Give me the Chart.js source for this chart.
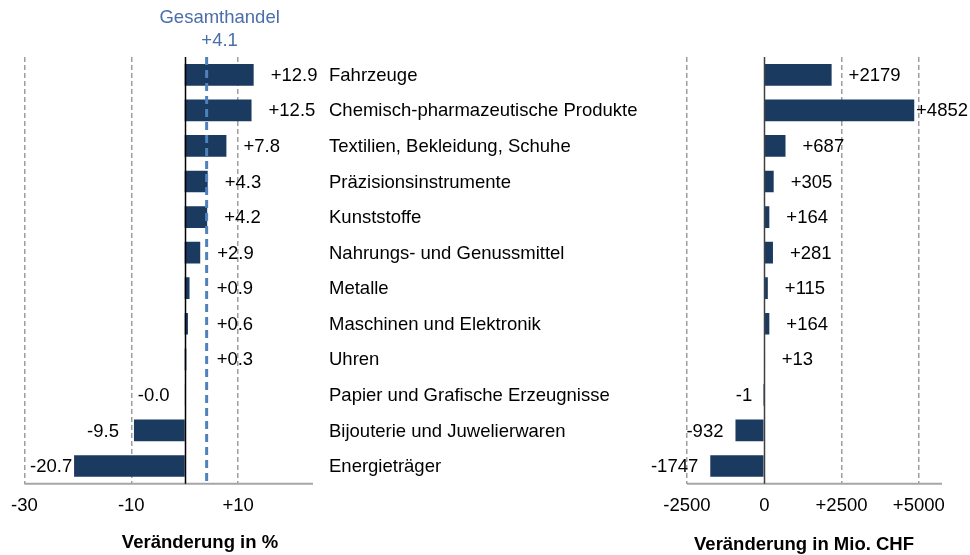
<!DOCTYPE html>
<html>
<head>
<meta charset="utf-8">
<script src="https://cdn.jsdelivr.net/npm/chart.js@4"></script>
<style>
    html, body { margin: 0; padding: 0; background: #fff; }
    #wrap { position: relative; width: 970px; height: 555px; overflow: hidden; }
    #cvProzent { position: absolute; left: 0; top: 0; }
    #cvMio { position: absolute; left: 645px; top: 0; }
</style>
</head>
<body>
<div id="wrap">
    <canvas id="cvProzent" width="645" height="555"></canvas>
    <canvas id="cvMio" width="325" height="555"></canvas>
</div>
<script>
'use strict';

// Daten
const kategorien = [
    'Fahrzeuge',
    'Chemisch-pharmazeutische Produkte',
    'Textilien, Bekleidung, Schuhe',
    'Präzisionsinstrumente',
    'Kunststoffe',
    'Nahrungs- und Genussmittel',
    'Metalle',
    'Maschinen und Elektronik',
    'Uhren',
    'Papier und Grafische Erzeugnisse',
    'Bijouterie und Juwelierwaren',
    'Energieträger'
];
const veraenderungProzent = [12.9, 12.5, 7.8, 4.3, 4.2, 2.9, 0.9, 0.6, 0.3, -0.02, -9.5, -20.7];
const veraenderungMio = [2179, 4852, 687, 305, 164, 281, 115, 164, 13, -1, -932, -1747];
const gesamthandel = 4.1;
const ticksProzent = [-30, -10, 10];
const ticksMio = [-2500, 0, 2500, 5000];

// Stil
const schrift = '"Liberation Sans", Arial, sans-serif';
const groesse = 18.5;
const balkenFarbe = '#1b3a60';
const gitterFarbe = '#9e9e9e';
const blau = '#4f81bd';

let mitVorzeichen = (v, stellen) => {
    let s = Math.abs(v).toFixed(stellen);
    if (v < 0) return '-' + s;
    if (v > 0) return '+' + s;
    return s;
}

// Wertbeschriftungen, Nulllinie und Grundlinie
let wertePlugin = (werte, stellen, minLinks, nullFarbe, abstandNeg) => ({
    id: 'werte',
    afterDatasetsDraw(chart) {
        const ctx = chart.ctx;
        const x = chart.scales.x;
        const area = chart.chartArea;
        const bars = chart.getDatasetMeta(0).data;

        ctx.save();
        // Grundlinie
        ctx.strokeStyle = '#a6a6a6';
        ctx.lineWidth = 2;
        ctx.beginPath();
        ctx.moveTo(area.left, area.bottom);
        ctx.lineTo(area.right, area.bottom);
        ctx.stroke();
        // Nulllinie
        let x0 = Math.round(x.getPixelForValue(0)) + 0.5;
        ctx.strokeStyle = nullFarbe;
        ctx.lineWidth = 1.5;
        ctx.beginPath();
        ctx.moveTo(x0, area.top);
        ctx.lineTo(x0, area.bottom);
        ctx.stroke();

        ctx.font = groesse + 'px ' + schrift;
        ctx.fillStyle = '#000';
        ctx.textBaseline = 'middle';
        let minX = minLinks(chart);
        for (let i = 0; i < bars.length; i++) {
            let v = werte[i];
            let txt = mitVorzeichen(v, stellen);
            let w = ctx.measureText(txt).width;
            if (v >= 0) {
                let links = Math.max(bars[i].x + 17, minX.wert);
                if (links + w > chart.width - 2) links = chart.width - 2 - w;
                ctx.textAlign = 'left';
                ctx.fillText(txt, links, bars[i].y + 1);
            } else {
                let rechts = bars[i].x - abstandNeg;
                if (rechts - w < minX.rand) rechts = minX.rand + w;
                ctx.textAlign = 'right';
                ctx.fillText(txt, rechts, bars[i].y + 1);
            }
        }
        ctx.restore();
    }
});

let prozentExtras = {
    id: 'prozentExtras',
    afterDraw(chart) {
        const ctx = chart.ctx;
        const x = chart.scales.x;
        const area = chart.chartArea;
        const bars = chart.getDatasetMeta(0).data;
        let xg = x.getPixelForValue(gesamthandel);

        ctx.save();
        // Gesamthandel
        ctx.strokeStyle = blau;
        ctx.lineWidth = 3;
        ctx.setLineDash([8, 5]);
        ctx.beginPath();
        ctx.moveTo(xg, area.top);
        ctx.lineTo(xg, area.bottom);
        ctx.stroke();
        ctx.setLineDash([]);

        ctx.font = groesse + 'px ' + schrift;
        ctx.fillStyle = '#4a6ea9';
        ctx.textAlign = 'center';
        ctx.textBaseline = 'middle';
        ctx.fillText('Gesamthandel', xg + 13, 18);
        ctx.fillText(mitVorzeichen(gesamthandel, 1), xg + 13, 41);

        // Kategorien
        ctx.fillStyle = '#000';
        ctx.textAlign = 'left';
        for (let i = 0; i < bars.length; i++) {
            ctx.fillText(kategorien[i], 329, bars[i].y + 1);
        }

        // Achsentitel
        ctx.font = 'bold ' + groesse + 'px ' + schrift;
        ctx.textAlign = 'center';
        ctx.fillText('Veränderung in %', 200, 543);
        ctx.restore();
    }
};

let mioExtras = {
    id: 'mioExtras',
    afterDraw(chart) {
        const ctx = chart.ctx;
        ctx.save();
        ctx.font = 'bold ' + groesse + 'px ' + schrift;
        ctx.fillStyle = '#000';
        ctx.textAlign = 'center';
        ctx.textBaseline = 'middle';
        ctx.fillText('Veränderung in Mio. CHF', 159, 545);
        ctx.restore();
    }
};

let optionen = (min, max, tickWerte, links, rechts) => ({
    indexAxis: 'y',
    responsive: false,
    animation: false,
    devicePixelRatio: 1,
    layout: { padding: { left: links, right: rechts, top: 57, bottom: 27 } },
    plugins: { legend: { display: false }, tooltip: { enabled: false } },
    scales: {
        y: { type: 'category', display: false },
        x: {
            min: min,
            max: max,
            afterBuildTicks: (scale) => { scale.ticks = tickWerte.map(v => ({ value: v })); },
            border: { display: false, dash: [5, 3] },
            grid: {
                drawTicks: false,
                lineWidth: 1.5,
                color: (c) => (c.tick && c.tick.value === 0) ? 'rgba(0,0,0,0)' : gitterFarbe
            },
            ticks: {
                autoSkip: false,
                maxRotation: 0,
                padding: 11,
                color: '#000',
                font: { family: schrift, size: groesse },
                callback: (v) => mitVorzeichen(v, 0)
            }
        }
    }
});

let datensatz = (werte) => ({
    data: werte,
    backgroundColor: balkenFarbe,
    borderWidth: 0,
    barPercentage: 0.61,
    categoryPercentage: 1
});

let minProzent = (chart) => ({ wert: chart.scales.x.getPixelForValue(gesamthandel) + 10, rand: 30 });
let minMio = (chart) => ({ wert: 0, rand: 5 });

new Chart(document.getElementById('cvProzent'), {
    type: 'bar',
    data: { labels: kategorien, datasets: [datensatz(veraenderungProzent)] },
    options: optionen(-30, 24, ticksProzent, 23, 332),
    plugins: [wertePlugin(veraenderungProzent, 1, minProzent, '#000', 15), prozentExtras]
});

new Chart(document.getElementById('cvMio'), {
    type: 'bar',
    data: { labels: kategorien, datasets: [datensatz(veraenderungMio)] },
    options: optionen(-2500, 5750, ticksMio, 42, 28),
    plugins: [wertePlugin(veraenderungMio, 0, minMio, '#404040', 12), mioExtras]
});
</script>
</body>
</html>
